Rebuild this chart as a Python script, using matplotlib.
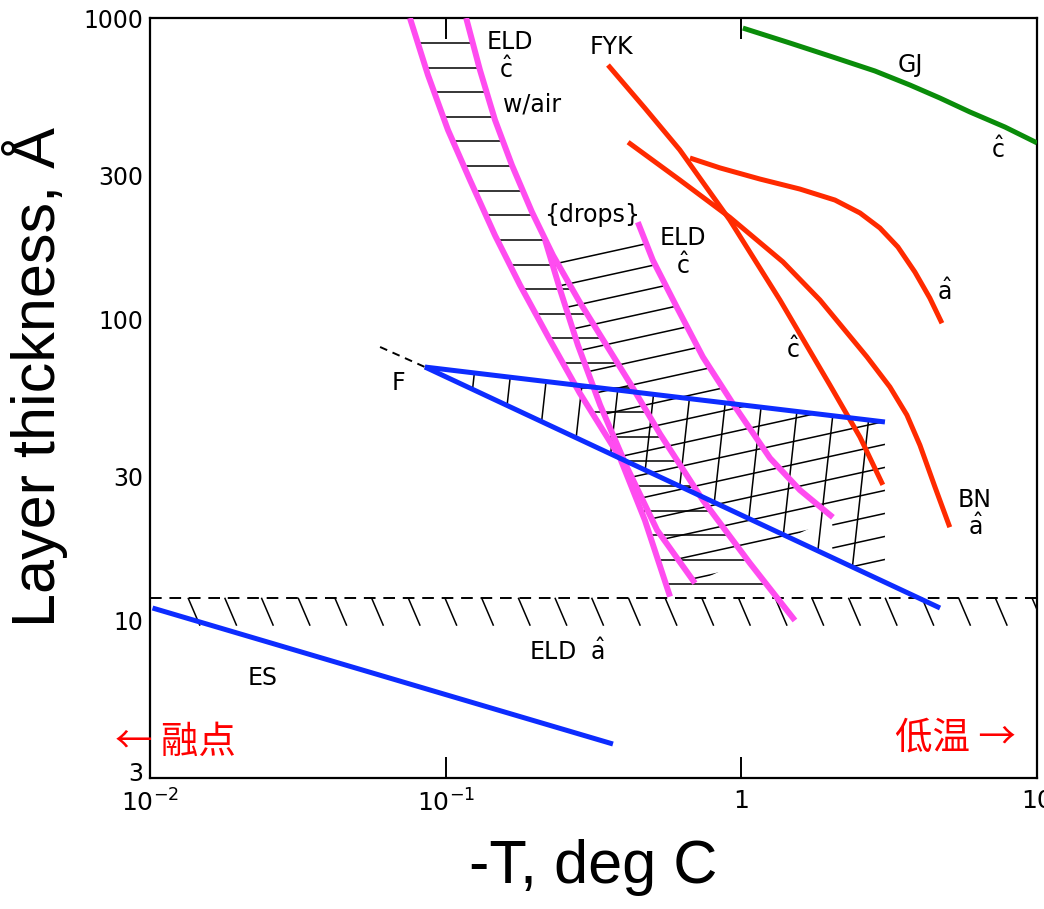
import numpy as np
import matplotlib
matplotlib.use('Agg')
import matplotlib.pyplot as plt
from matplotlib.patches import Polygon
from matplotlib.collections import LineCollection
from matplotlib.transforms import ScaledTranslation

# ---- data (-T in deg C, thickness in Angstrom) ----
eld_air_left_T = [0.0757, 0.0871, 0.1018, 0.1208, 0.1468, 0.1784, 0.2253, 0.284, 0.388, 0.472, 0.574]
eld_air_left_d = [1000, 647, 425, 290, 190, 129.9, 85.3, 56.9, 34.8, 21.5, 12.0]
eld_air_right_T = [0.1173, 0.1306, 0.1468, 0.1675, 0.1958, 0.2307, 0.284, 0.420, 0.531, 0.741, 1.069, 1.518]
eld_air_right_d = [1000, 672, 459, 325, 227, 163, 114.0, 61.4, 41.6, 25.1, 15.5, 10.0]
drops_left_T = [0.217, 0.244, 0.280, 0.333, 0.410, 0.519, 0.697]
drops_left_d = [183, 125, 82.1, 51.9, 32.3, 19.95, 13.3]
drops_right_T = [0.4466, 0.502, 0.605, 0.741, 0.929, 1.250, 1.578, 2.04]
drops_right_d = [210, 157, 109.7, 75, 53.1, 34.6, 27.1, 22.0]

fyk_c_T = [0.354, 0.472, 0.619, 0.914, 1.351, 1.993, 2.52, 3.01]
fyk_c_d = [698, 502, 365, 213.4, 115.8, 60.5, 40.6, 28.2]
fyk_a_T = [0.670, 0.8465, 1.156, 1.578, 2.073, 2.52, 2.942, 3.385, 3.865, 4.34, 4.77]
fyk_a_d = [343, 318, 292, 270.5, 248.7, 225.3, 200.9, 173.7, 143.4, 117.6, 97]
bn_a_T = [0.414, 0.619, 0.914, 1.383, 1.845, 2.66, 3.18, 3.63, 4.018, 4.52, 5.07]
bn_a_d = [387, 290, 218, 155, 115.8, 75, 59.6, 48.1, 38.2, 27.7, 20.4]

gj_T = [1.012, 1.460, 2.04, 2.830, 3.72, 4.694, 5.932, 7.79, 10.0]
gj_d = [926, 826, 742, 667, 599, 542.5, 487.5, 434.6, 385]

f_upper_T = [0.0851, 3.06]
f_upper_d = [69.4, 45.6]
f_lower_T = [0.0851, 4.70]
f_lower_d = [69.4, 11.0]
f_ext_T = [0.060, 0.0851]
f_ext_d = [80.9, 69.4]

es_T = [0.0102, 0.368]
es_d = [11.0, 3.89]

eld_a_d = 11.9

yticks = [3, 10, 30, 100, 300, 1000]
xticks = [0.01, 0.1, 1, 10]
xticklabels = [r'$10^{-2}$', r'$10^{-1}$', '1', '10']

MAG = '#ff4cf0'
RED = '#ff2a00'
BLUE = '#0d2cff'
GREEN = '#0a8c0a'

plt.rcParams['font.family'] = ['DejaVu Sans', 'Noto Sans CJK SC']

fig = plt.figure(figsize=(10.44, 9.09), dpi=100)
ax = fig.add_axes([150/1044, 131/909, 887/1044, 760/909])
ax.set_xscale('log')
ax.set_yscale('log')
ax.set_xlim(0.01, 10)
ax.set_ylim(3, 1000)


def lg(v):
    return np.log10(np.asarray(v, dtype=float))


def x_on(curve_T, curve_d, d):
    # x of a falling curve at thickness d (log-log interpolation)
    ly = lg(curve_d)[::-1]
    lx = lg(curve_T)[::-1]
    return 10 ** np.interp(lg(d), ly, lx)


def clip_poly(T, d):
    p = Polygon(np.column_stack([T, d]), closed=True, transform=ax.transData,
                facecolor='none', edgecolor='none')
    ax.add_patch(p)
    return p


hatch_kw = dict(colors='black', linewidths=1.1, zorder=2)

# horizontal hatching inside the ELD c w/air band
band1 = clip_poly(eld_air_left_T + eld_air_right_T[::-1], eld_air_left_d + eld_air_right_d[::-1])
levels = 10 ** (2.917 - 0.0817 * np.arange(23))
lc = LineCollection([[(0.01, v), (10, v)] for v in levels], **hatch_kw)
ax.add_collection(lc)
lc.set_clip_path(band1)

# slanted hatching in the drops band
band2 = clip_poly(drops_left_T + drops_right_T[::-1], drops_left_d + drops_right_d[::-1])
xs = np.array([0.01, 10])
slant = []
for k in range(18):
    c = 2.246 - 0.0764 * k
    slant.append(np.column_stack([xs, 10 ** (c + 0.216 * (lg(xs) - np.log10(0.454)))]))
lc = LineCollection(slant, **hatch_kw)
ax.add_collection(lc)
lc.set_clip_path(band2)

# triangle of F: near-vertical hatching, plus the slanted lines right of drops band
lower_end = 10 ** np.interp(lg(f_upper_T[1]), lg(f_lower_T), lg(f_lower_d))
tri = clip_poly([f_upper_T[0], f_upper_T[1], f_upper_T[1]],
                [f_upper_d[0], f_upper_d[1], lower_end])
ys = np.array([5, 200])
vert = []
for k in range(12):
    c = -0.911 + 0.1228 * k
    vert.append(np.column_stack([10 ** (c + 0.112 * (lg(ys) - 1.75)), ys]))
lc = LineCollection(vert, **hatch_kw)
ax.add_collection(lc)
lc.set_clip_path(tri)

xx = np.logspace(np.log10(0.3), np.log10(5), 400)
for k in range(18):
    c = 2.246 - 0.0764 * k
    yy = 10 ** (c + 0.216 * (lg(xx) - np.log10(0.454)))
    keep = xx > x_on(drops_right_T, drops_right_d, yy)
    ln, = ax.plot(np.where(keep, xx, np.nan), yy, color='black', lw=1.1, zorder=2)
    ln.set_clip_path(tri)

# ELD a boundary: dashed line with short hatch ticks below
ax.plot([0.01, 10], [eld_a_d, eld_a_d], color='black', lw=1.4,
        linestyle=(0, (6, 4)), zorder=2)
ticks = []
for k in range(24):
    x0 = 10 ** (-1.8715 + 0.1241 * k)
    ticks.append([(x0, eld_a_d), (x0 * 10 ** 0.0406, eld_a_d * 10 ** -0.093)])
ax.add_collection(LineCollection(ticks, **hatch_kw))

ax.plot(f_ext_T, f_ext_d, color='black', lw=1.4, linestyle=(0, (4, 3)), zorder=2)

# coloured curves
line_kw = dict(solid_capstyle='butt', solid_joinstyle='round', zorder=4)
ax.plot(eld_air_left_T, eld_air_left_d, color=MAG, lw=4.3, **line_kw)
ax.plot(eld_air_right_T, eld_air_right_d, color=MAG, lw=4.3, **line_kw)
ax.plot(drops_left_T, drops_left_d, color=MAG, lw=4.3, **line_kw)
ax.plot(drops_right_T, drops_right_d, color=MAG, lw=4.3, **line_kw)

ax.plot(fyk_c_T, fyk_c_d, color=RED, lw=3.6, **line_kw)
ax.plot(fyk_a_T, fyk_a_d, color=RED, lw=3.6, **line_kw)
ax.plot(bn_a_T, bn_a_d, color=RED, lw=3.6, **line_kw)
ax.plot(gj_T, gj_d, color=GREEN, lw=3.6, **line_kw)

line_kw['zorder'] = 5
ax.plot(f_upper_T, f_upper_d, color=BLUE, lw=3.6, **line_kw)
ax.plot(f_lower_T, f_lower_d, color=BLUE, lw=3.6, **line_kw)
ax.plot(es_T, es_d, color=BLUE, lw=3.6, **line_kw)

# annotations
tk = dict(fontsize=17, ha='center', va='center', color='black', zorder=6)
hc = r'$\hat{\mathrm{c}}$'
ha_ = r'$\hat{\mathrm{a}}$'
ax.text(0.165, 832, 'ELD', **tk)
ax.text(0.160, 672, hc, **tk)
ax.text(0.196, 518, 'w/air', **tk)
ax.text(0.365, 801, 'FYK', **tk)
ax.text(3.72, 698, 'GJ', **tk)
ax.text(7.38, 365, hc, **tk)
ax.text(0.313, 222, '{drops}', **tk)
ax.text(0.635, 186, 'ELD', **tk)
ax.text(0.635, 150, hc, **tk)
ax.text(1.494, 79, hc, **tk)
ax.text(4.88, 123, ha_, **tk)
ax.text(0.069, 61.4, 'F', **tk)
ax.text(6.17, 25.1, 'BN', **tk)
ax.text(6.17, 20.4, ha_, **tk)
ax.text(0.257, 7.85, 'ELD  ' + ha_, **tk)
ax.text(0.0241, 6.44, 'ES', **tk)

cjk = ['Noto Sans CJK SC', 'DejaVu Sans']
ax.text(0.01215, 3.95, '← 融点', fontsize=27, color='#ff0000', ha='center', va='center', family=cjk)
ax.text(5.28, 4.07, '低温 →', fontsize=27, color='#ff0000', ha='center', va='center', family=cjk)

# axes styling
ax.minorticks_off()
ax.set_yticks(yticks)
ax.set_yticklabels([str(v) for v in yticks])
ax.set_xticks(xticks)
ax.set_xticklabels(xticklabels)
ax.tick_params(axis='y', length=0, pad=5, labelsize=17)
ax.tick_params(axis='x', direction='in', length=15, width=1.4, top=True, pad=8, labelsize=18)
for s in ax.spines.values():
    s.set_linewidth(1.6)
# lift the lowest y label a little, as in the original
lab3 = ax.get_yticklabels()[0]
lab3.set_transform(lab3.get_transform() + ScaledTranslation(0, 5/72, fig.dpi_scale_trans))

ax.set_xlabel('-T, deg C', fontsize=44, family=['Liberation Sans', 'DejaVu Sans'], labelpad=16)
ax.set_ylabel('Layer thickness, Å', fontsize=44, family=['Liberation Sans', 'DejaVu Sans'])
ax.yaxis.set_label_coords(-0.092, 0.527)

fig.savefig('out.png', dpi=100)
